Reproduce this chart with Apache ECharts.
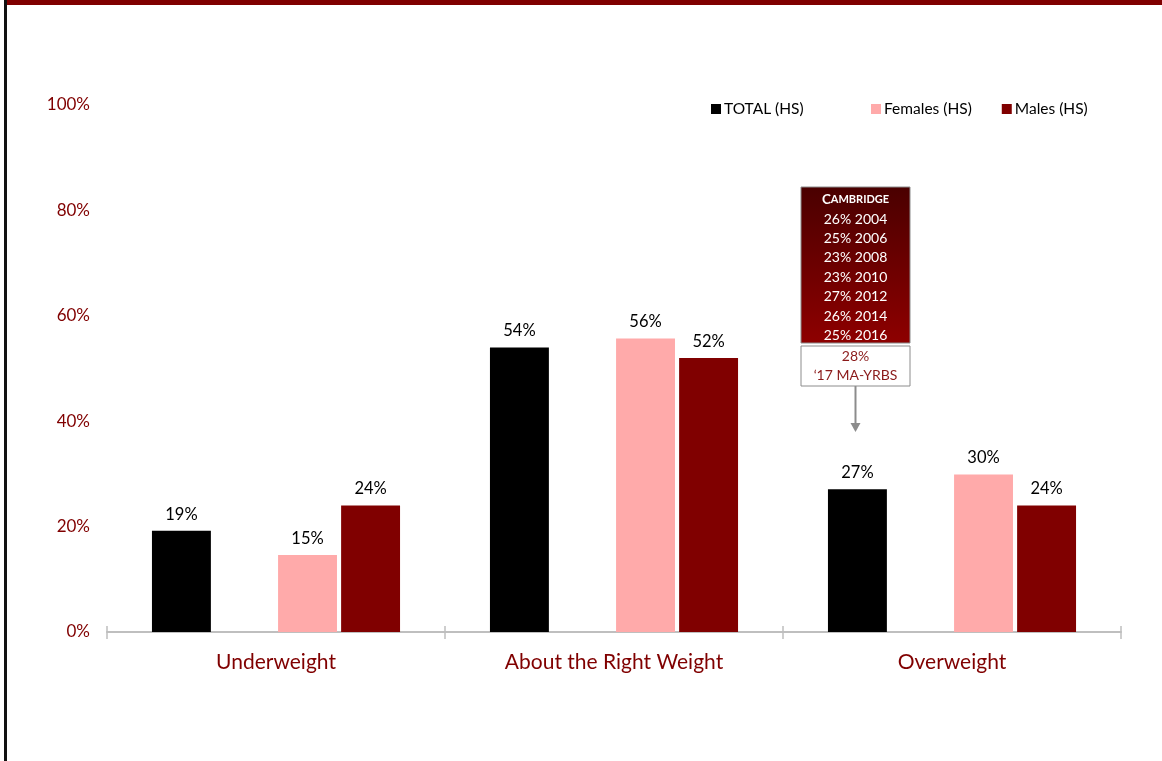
<!DOCTYPE html>
<html><head><meta charset="utf-8">
<script src="https://cdn.jsdelivr.net/npm/echarts@6/dist/echarts.min.js"></script>
<style>html,body{margin:0;padding:0;background:#fff}#c{width:1162px;height:761px}</style>
</head><body><div id="c"></div>
<script>
var categories = ['Underweight', 'About the Right Weight', 'Overweight'];
var totalVals = [19.2, 54, 27.1];
var femaleVals = [14.6, 55.7, 29.9];
var maleVals = [24, 52, 24];
var blankVals = ['-', '-', '-'];
var yTicks = [0, 20, 40, 60, 80, 100];
var boxLines = ['26% 2004', '25% 2006', '23% 2008', '23% 2010', '27% 2012', '26% 2014', '25% 2016'];

var FONT = 'Lato, "Open Sans", sans-serif';
var RED = '#800000';
var chart = echarts.init(document.getElementById('c'), null, {renderer: 'canvas'});
function lbl() {
  return {show: true, position: 'top', distance: 8, color: '#000', fontSize: 16.5, fontFamily: FONT,
    formatter: function (p) { return Math.round(p.value) + '%'; }};
}
var richLines = '{h|C}{s|AMBRIDGE}\n' + boxLines.join('\n');
chart.setOption({
  animation: false,
  grid: {left: 107, right: 41, top: 105, bottom: 129},
  legend: [
    {data: ['TOTAL (HS)'], left: 706, top: 96, itemWidth: 10, itemHeight: 10, icon: 'rect', itemGap: 10,
      textStyle: {fontFamily: FONT, fontSize: 15.5, color: '#000', padding: [0, 0, 0, -2]}},
    {data: ['Females (HS)', 'Males (HS)'], left: 866, top: 96, itemWidth: 10, itemHeight: 10, icon: 'rect', itemGap: 30,
      textStyle: {fontFamily: FONT, fontSize: 15.5, color: '#000', padding: [0, 0, 0, -2]}}
  ],
  xAxis: [{
    type: 'category', data: categories,
    axisLine: {lineStyle: {color: '#BFBFBF', width: 2}},
    axisTick: {show: true, length: 7, lineStyle: {color: '#BFBFBF', width: 1.5}},
    axisLabel: {color: RED, fontSize: 21, fontFamily: FONT, margin: 20}
  }, {
    type: 'category', data: categories, position: 'bottom',
    axisLine: {show: false},
    axisTick: {show: true, inside: true, length: 6, lineStyle: {color: '#BFBFBF', width: 1.5}},
    axisLabel: {show: false}
  }],
  yAxis: {
    type: 'value', min: 0, max: 100, interval: 20,
    splitLine: {show: false}, axisLine: {show: false}, axisTick: {show: false},
    axisLabel: {color: RED, fontSize: 17, fontFamily: FONT, margin: 17,
      formatter: function (v) { return yTicks.indexOf(v) >= 0 ? v + '%' : ''; }}
  },
  series: [
    {name: 'TOTAL (HS)', type: 'bar', data: totalVals, itemStyle: {color: '#000000'},
      barCategoryGap: '26.6%', barGap: '7%', label: lbl()},
    {name: 'blank', type: 'bar', data: blankVals, itemStyle: {color: '#fff'}, label: {show: false}},
    {name: 'Females (HS)', type: 'bar', data: femaleVals, itemStyle: {color: '#FFAAAA'}, label: lbl()},
    {name: 'Males (HS)', type: 'bar', data: maleVals, itemStyle: {color: '#800000'}, label: lbl()}
  ],
  graphic: [
    {type: 'rect', shape: {x: 4, y: 0, width: 3, height: 761}, style: {fill: '#111'}, silent: true},
    {type: 'rect', shape: {x: 7, y: 0, width: 1155, height: 5}, style: {fill: '#800000'}, silent: true},
    {type: 'rect', shape: {x: 801, y: 187, width: 109, height: 156},
      style: {fill: new echarts.graphic.LinearGradient(0, 0, 0, 1, [{offset: 0, color: '#4A0000'}, {offset: 1, color: '#8E0000'}]),
        stroke: '#8C8C8C', lineWidth: 1}},
    {type: 'text', x: 855.5, y: 190, style: {text: richLines, fill: '#fff', align: 'center',
      font: '14px ' + FONT, lineHeight: 19.4,
      rich: {h: {fontSize: 13.5, fontWeight: 'bold', fill: '#fff', fontFamily: FONT, lineHeight: 19.4},
             s: {fontSize: 11, fontWeight: 'bold', fill: '#fff', fontFamily: FONT, lineHeight: 19.4}}}},
    {type: 'rect', shape: {x: 801, y: 346, width: 109, height: 40}, style: {fill: '#fff', stroke: '#8C8C8C', lineWidth: 1}},
    {type: 'text', x: 855.5, y: 347, style: {text: '28%\n\u201817 MA-YRBS', fill: '#8B1A1A', align: 'center',
      font: '14px ' + FONT, lineHeight: 19}},
    {type: 'line', shape: {x1: 855.5, y1: 386, x2: 855.5, y2: 424}, style: {stroke: '#8C8C8C', lineWidth: 2}},
    {type: 'polygon', shape: {points: [[850.5, 423], [860.5, 423], [855.5, 432]]}, style: {fill: '#8C8C8C'}}
  ]
});
</script></body></html>
